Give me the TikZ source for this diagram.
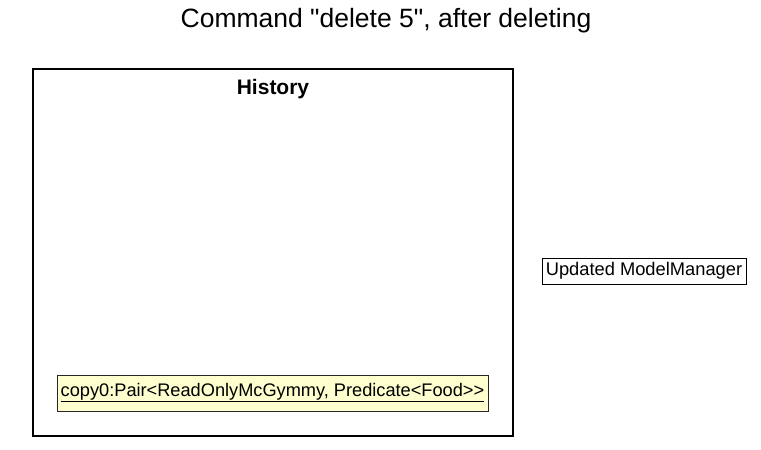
\documentclass[tikz,border=0pt]{standalone}
\usepackage{fontspec}
\newfontfamily\uifont{Liberation Sans}
\definecolor{objfill}{HTML}{FEFECE}
\begin{document}
\begin{tikzpicture}[x=1pt,y=-1pt,
  titletext/.style={inner sep=0pt,anchor=base,font=\uifont\fontsize{26.5}{30}\selectfont},
  framebox/.style={draw=black,line width=1.6pt},
  framelabel/.style={inner sep=0pt,anchor=base,font=\uifont\fontsize{21}{24}\selectfont\bfseries},
  objbox/.style={draw=black!85,fill=objfill,line width=0.8pt,inner sep=0pt},
  plainbox/.style={draw=black,fill=white,line width=0.8pt,inner sep=0pt},
  boxtext/.style={inner sep=0pt,font=\uifont\fontsize{18.2}{21}\selectfont},
  boxtextb/.style={inner sep=0pt,font=\uifont\fontsize{18.3}{21}\selectfont}]
\useasboundingbox (0,0) rectangle (761,450);
\node[titletext] (title) at (386,27) {Command "delete 5", after deleting};
\draw[framebox] (33,69) rectangle (513,436);
\coordinate (histtop) at (273,94);
\node[framelabel] (hist) at (histtop) {History};
\draw[objbox] (57,375) rectangle (488,411);
\node[boxtext] (copy) at (272.5,392.5) {\underline{copy0:Pair<ReadOnlyMcGymmy, Predicate<Food>>}};
\draw[plainbox] (542,258) rectangle (746,284);
\node[boxtextb] (upd) at (644,271) {Updated ModelManager};
\end{tikzpicture}
\end{document}
